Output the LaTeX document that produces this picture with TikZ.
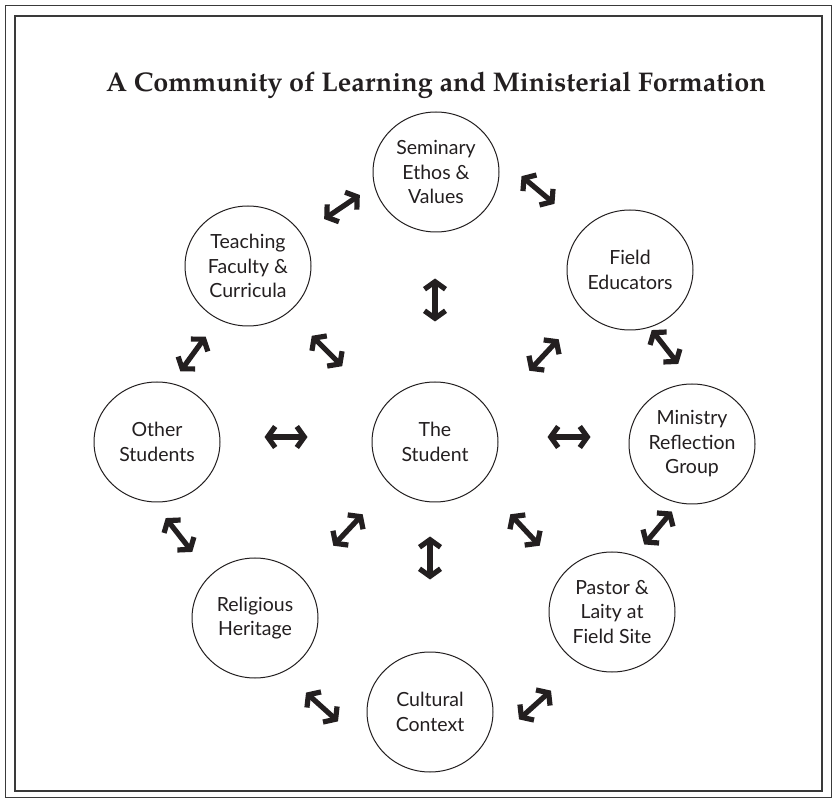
\documentclass[tikz,border=0pt]{standalone}
\usepackage{fontspec}
\usetikzlibrary{arrows.meta,shapes.geometric}
\newfontfamily\lblfont{Lato}
\newfontfamily\titlefont{TeX Gyre Pagella}
\definecolor{ink}{HTML}{231F20}
\definecolor{rule}{HTML}{3A3A3A}
\tikzset{
  circ/.style={draw=ink, line width=1pt, ellipse, minimum width=126pt, minimum height=120pt, inner sep=0pt},
  lbl/.style={font=\lblfont\fontsize{19.5}{24.5}\selectfont, text=ink, align=center, inner sep=0pt},
  link/.style={draw=ink, line width=5.2pt, line join=miter,
    {Straight Barb[length=7.5pt,width=21pt,line width=5.2pt]}-{Straight Barb[length=7.5pt,width=21pt,line width=5.2pt]}},
  frameline/.style={draw=rule}
}
% two-way arrow of length 43 centred at (#1,#2), turned by #3 degrees (screen y points down)
\newcommand{\twoway}[4]{%
  \coordinate (#4-a) at ({#1-21.5*cos(#3)},{#2+21.5*sin(#3)});
  \coordinate (#4-b) at ({#1+21.5*cos(#3)},{#2-21.5*sin(#3)});
  \draw[link] (#4-a) -- (#4-b);}
\begin{document}
\begin{tikzpicture}[x=1pt,y=-1pt]
  \useasboundingbox (0,0) rectangle (836,799);
  \fill[white] (0,0) rectangle (836,799);
  % double frame
  \draw[frameline, line width=1pt] (5,6) rectangle (831,797);
  \draw[frameline, line width=1.3pt] (15,16) rectangle (822,791);
  % title
  \node[font=\titlefont\bfseries\fontsize{27}{32}\selectfont, text=ink] (title) at (436,85)
    {A Community of Learning and Ministerial Formation};
  % circles
  \node[circ] (sem) at (436,172) {};
  \node[circ] (tea) at (248,266) {};
  \node[circ] (fie) at (630,270) {};
  \node[circ] (oth) at (157,442) {};
  \node[circ] (stu) at (435,442) {};
  \node[circ] (min) at (692,444) {};
  \node[circ] (rel) at (255,618) {};
  \node[circ] (cul) at (430,712) {};
  \node[circ] (pas) at (612,612) {};
  % circle texts
  \node[lbl] (sem-t) at (sem) {Seminary\\Ethos \&\\Values};
  \node[lbl] (tea-t) at (tea) {Teaching\\Faculty \&\\Curricula};
  \node[lbl] (fie-t) at (fie) {Field\\Educators};
  \node[lbl] (oth-t) at (oth) {Other\\Students};
  \node[lbl] (stu-t) at (stu) {The\\Student};
  \node[lbl] (min-t) at (min) {Ministry\\Reflection\\Group};
  \node[lbl] (rel-t) at (rel) {Religious\\Heritage};
  \node[lbl] (cul-t) at (cul) {Cultural\\Context};
  \node[lbl] (pas-t) at (pas) {Pastor \&\\Laity at\\Field Site};
  % two-way arrows between neighbouring circles
  \twoway{342}{207}{34}{ts}
  \twoway{538}{190}{-40}{sf}
  \twoway{435}{300}{90}{ss}
  \twoway{193}{354}{54}{to}
  \twoway{327}{351}{-45}{tu}
  \twoway{544}{355}{47}{fu}
  \twoway{665}{347}{-52}{fm}
  \twoway{286}{437}{0}{ou}
  \twoway{569}{437}{0}{um}
  \twoway{179}{535}{-52}{or}
  \twoway{348}{530}{47}{ur}
  \twoway{430}{558}{90}{uc}
  \twoway{525}{530}{-47}{up}
  \twoway{658}{528}{50}{mp}
  \twoway{322}{707}{-42}{rc}
  \twoway{535}{705}{42}{cp}
\end{tikzpicture}
\end{document}
